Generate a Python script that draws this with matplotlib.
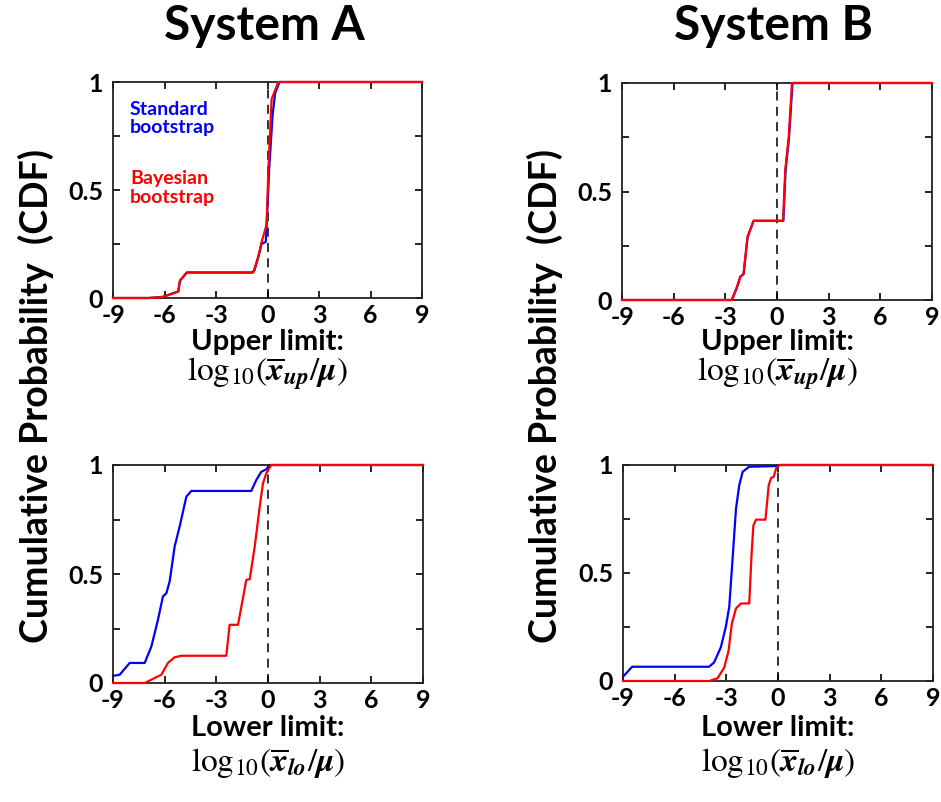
import numpy as np
import matplotlib
matplotlib.use("Agg")
import matplotlib.pyplot as plt


# ----------------------------
# CDF curves (x = log10 ratio, y = cumulative probability)
# ----------------------------
# System A, upper limit
A_UP_STD_X = [-9, -6.9, -6.1, -5.2, -5.1, -4.7, -0.9, -0.75, -0.5, -0.35, -0.1, -0.05, 0.1, 0.3, 0.45, 0.7, 9]
A_UP_STD_Y = [0, 0, 0.005, 0.03, 0.08, 0.118, 0.118, 0.13, 0.2, 0.25, 0.26, 0.34, 0.6, 0.85, 0.95, 1, 1]
A_UP_BAY_X = [-9, -6.9, -6.1, -5.2, -5.1, -4.7, -0.83, -0.54, -0.34, -0.05, 0.05, 0.24, 0.63, 9]
A_UP_BAY_Y = [0, 0, 0.005, 0.03, 0.08, 0.118, 0.118, 0.19, 0.26, 0.34, 0.59, 0.92, 1, 1]

# System B, upper limit
B_UP_STD_X = [-9, -2.63, -2.32, -2.13, -1.94, -1.71, -1.36, 0.37, 0.5, 0.7, 0.9, 9]
B_UP_STD_Y = [0, 0, 0.06, 0.107, 0.12, 0.29, 0.365, 0.365, 0.6, 0.75, 1, 1]
B_UP_BAY_X = [-9, -2.61, -2.32, -2.13, -1.94, -1.71, -1.36, 0.35, 0.48, 0.68, 0.87, 9]
B_UP_BAY_Y = [0, 0, 0.06, 0.107, 0.12, 0.29, 0.365, 0.365, 0.6, 0.75, 1, 1]

# System A, lower limit
A_LO_STD_X = [-9, -8.9, -8.61, -8.03, -7.16, -6.77, -6.39, -6.1, -5.9, -5.71, -5.42, -5.13, -4.74,
              -4.45, -0.97, -0.68, -0.39, -0.1, 0.1, 9]
A_LO_STD_Y = [0.034, 0.034, 0.038, 0.092, 0.092, 0.168, 0.29, 0.397, 0.412, 0.466, 0.626, 0.718, 0.855,
              0.881, 0.881, 0.931, 0.969, 0.98, 1, 1]
A_LO_BAY_X = [-9, -7.16, -6.19, -5.81, -5.42, -5.03, -2.42, -2.23, -1.74, -1.26, -1.06, -0.77, -0.48,
              -0.29, -0.1, 0.19, 9]
A_LO_BAY_Y = [0, 0, 0.038, 0.092, 0.118, 0.125, 0.125, 0.267, 0.267, 0.473, 0.476, 0.626, 0.81,
              0.916, 0.962, 1, 1]

# System B, lower limit
B_LO_STD_X = [-9, -8.96, -8.47, -4.0, -3.71, -3.32, -3.03, -2.83, -2.64, -2.44, -2.25, -2.05, -1.67,
              -0.11, 0.09, 9]
B_LO_STD_Y = [0.02, 0.023, 0.066, 0.066, 0.086, 0.156, 0.25, 0.344, 0.5625, 0.797, 0.906, 0.969, 0.992,
              0.995, 1, 1]
B_LO_BAY_X = [-9, -4.0, -3.51, -3.12, -2.87, -2.68, -2.44, -2.15, -1.67, -1.53, -1.43, -1.28, -0.73,
              -0.54, -0.4, -0.25, -0.11, 0.09, 9]
B_LO_BAY_Y = [0, 0, 0.0125, 0.0625, 0.14, 0.266, 0.336, 0.359, 0.359, 0.594, 0.719, 0.747, 0.747,
              0.906, 0.94, 0.945, 0.984, 1, 1]

X_TICKS = [-9, -6, -3, 0, 3, 6, 9]
Y_TICKS = [0, 0.5, 1]
Y_MINOR = [0.25, 0.75]

SYSTEMS = ["System A", "System B"]
LIMIT_NAMES = ["Upper limit:", "Lower limit:"]
LIMIT_MATH = [r"$\mathrm{log}_{10}(\overline{\boldsymbol{x}}_{\boldsymbol{up}}/\boldsymbol{\mu})$",
              r"$\mathrm{log}_{10}(\overline{\boldsymbol{x}}_{\boldsymbol{lo}}/\boldsymbol{\mu})$"]

plt.rcParams["font.family"] = ["Lato", "DejaVu Sans"]
plt.rcParams["mathtext.fontset"] = "stix"

W, H = 941, 802


def px_box(left, top, right, bottom):
    return [left / W, 1 - bottom / H, (right - left) / W, (bottom - top) / H]


def style_axes(ax):
    ax.set_xlim(-9, 9)
    ax.set_ylim(0, 1)
    ax.set_xticks(X_TICKS)
    ax.set_xticklabels([str(t) for t in X_TICKS])
    ax.set_yticks(Y_TICKS)
    ax.set_yticklabels(["0", "0.5", "1"])
    ax.set_yticks(Y_MINOR, minor=True)
    ax.tick_params(which="both", direction="in", top=True, right=True, width=1.2, color="black")
    ax.tick_params(which="major", length=5, labelsize=18)
    ax.tick_params(which="minor", length=5)
    ax.tick_params(axis="x", pad=4.5)
    ax.tick_params(axis="y", pad=7)
    for lab in ax.get_xticklabels() + ax.get_yticklabels():
        lab.set_fontweight("bold")
    for sp in ax.spines.values():
        sp.set_linewidth(1.3)
        sp.set_color("#222222")


def draw_panel(ax, std, bay):
    ax.axvline(0, color="#222222", linestyle=(0, (5, 3.5)), linewidth=1.3, zorder=1)
    ax.plot(std[0], std[1], color="#0000ff", linewidth=1.6, zorder=2, clip_on=False)
    ax.plot(bay[0], bay[1], color="#ff0000", linewidth=1.6, zorder=3, clip_on=False)
    style_axes(ax)


def main():
    fig = plt.figure(figsize=(W / 100, H / 100), dpi=100)

    boxes = [[px_box(113, 82, 422, 298), px_box(622, 83, 932, 300)],
             [px_box(113, 465, 423, 683), px_box(623, 465, 933, 681)]]
    curves = [[((A_UP_STD_X, A_UP_STD_Y), (A_UP_BAY_X, A_UP_BAY_Y)),
               ((B_UP_STD_X, B_UP_STD_Y), (B_UP_BAY_X, B_UP_BAY_Y))],
              [((A_LO_STD_X, A_LO_STD_Y), (A_LO_BAY_X, A_LO_BAY_Y)),
               ((B_LO_STD_X, B_LO_STD_Y), (B_LO_BAY_X, B_LO_BAY_Y))]]

    label_y = [(342, 374), (728, 764)]
    for row in range(2):
        for col in range(2):
            ax = fig.add_axes(boxes[row][col])
            std, bay = curves[row][col]
            draw_panel(ax, std, bay)
            cx = boxes[row][col][0] + boxes[row][col][2] / 2
            fig.text(cx, 1 - label_y[row][0] / H, LIMIT_NAMES[row], ha="center", va="center",
                     fontsize=21, fontweight="bold")
            fig.text(cx, 1 - label_y[row][1] / H, LIMIT_MATH[row], ha="center", va="center",
                     fontsize=24)
            if row == 0 and col == 0:
                ax.text(0.055, 0.83, "Standard\nbootstrap", transform=ax.transAxes, color="#0000ff",
                        fontsize=14, fontweight="bold", va="center", linespacing=1.1)
                ax.text(0.055, 0.51, "Bayesian\nbootstrap", transform=ax.transAxes, color="#ff0000",
                        fontsize=14, fontweight="bold", va="center", linespacing=1.1)

    for x_px, title in zip([264, 774], SYSTEMS):
        fig.text(x_px / W, 1 - 26 / H, title, ha="center", va="center", fontsize=34.5, fontweight="bold")
    for x_px in [36, 545]:
        fig.text(x_px / W, 1 - 396 / H, "Cumulative Probability  (CDF)", rotation=90,
                 ha="center", va="center", fontsize=27, fontweight="bold")

    fig.savefig("out.png", dpi=100, facecolor="white")
    plt.close(fig)


if __name__ == "__main__":
    main()
